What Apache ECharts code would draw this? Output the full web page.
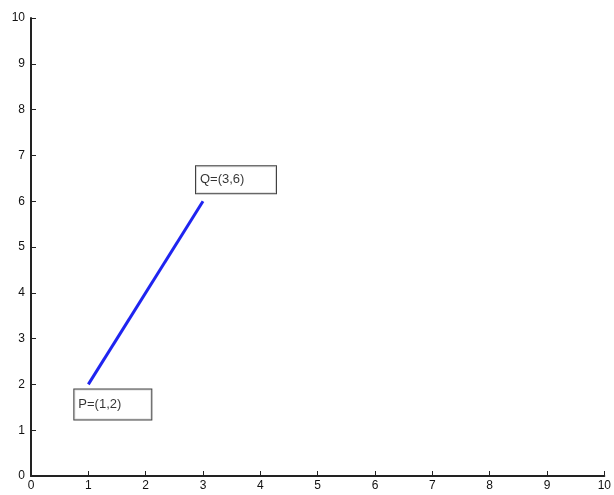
<!DOCTYPE html>
<html>
<head>
<meta charset="utf-8">
<script src="https://cdn.jsdelivr.net/npm/echarts@6/dist/echarts.min.js"></script>
<style>
html,body{margin:0;padding:0;background:#fff;}
#c{width:614px;height:495px;}
</style>
</head>
<body>
<div id="c"></div>
<script>
var xTicks = [0,1,2,3,4,5,6,7,8,9,10];
var yTicks = [0,1,2,3,4,5,6,7,8,9,10];
var lineX = [1, 3];
var lineY = [2, 6];
var pointNames = ['P=(1,2)', 'Q=(3,6)'];

var chart = echarts.init(document.getElementById('c'), null, {renderer:'canvas'});
var lineData = lineX.map(function(x,i){return [x, lineY[i]];});
var labelOffsets = [[-14, 5], [-7, -35]];
var labelSizes = [[73, 30], [76, 27]];
var labelData = lineX.map(function(x,i){
  return {
    value: [x, lineY[i]],
    name: pointNames[i],
    label: {
      position: labelOffsets[i],
      width: labelSizes[i][0],
      height: labelSizes[i][1],
      lineHeight: labelSizes[i][1]
    }
  };
});
var font = 'Liberation Sans, Arial, sans-serif';
chart.setOption({
  animation: false,
  backgroundColor: '#fff',
  grid: {left: 31, right: 4, top: 18, bottom: 19, containLabel: false},
  xAxis: {
    type: 'value', min: 0, max: 10, interval: 1,
    axisLine: {show: true, onZero: false, lineStyle: {color: '#222', width: 2}},
    axisTick: {show: true, inside: true, length: 5, lineStyle: {color: '#222', width: 1}},
    axisLabel: {color: '#111', fontSize: 12, fontFamily: font, margin: 4},
    splitLine: {show: false}
  },
  yAxis: {
    type: 'value', min: 0, max: 10, interval: 1,
    axisLine: {show: true, onZero: false, lineStyle: {color: '#222', width: 2}},
    axisTick: {show: true, inside: true, length: 5, lineStyle: {color: '#222', width: 1}},
    axisLabel: {color: '#111', fontSize: 12, fontFamily: font, margin: 6},
    splitLine: {show: false}
  },
  series: [
    {
      type: 'line',
      data: lineData,
      showSymbol: false,
      symbol: 'none',
      lineStyle: {color: '#1f24f0', width: 3},
      silent: true
    },
    {
      type: 'scatter',
      data: labelData,
      symbolSize: 0,
      itemStyle: {color: 'transparent'},
      silent: true,
      label: {
        show: true,
        formatter: '{b}',
        align: 'left',
        verticalAlign: 'top',
        color: '#000',
        fontSize: 13,
        fontFamily: font,
        backgroundColor: '#fff',
        borderColor: '#111',
        borderWidth: 1,
        padding: [0, 0, 0, 4]
      }
    }
  ]
});
</script>
</body>
</html>
